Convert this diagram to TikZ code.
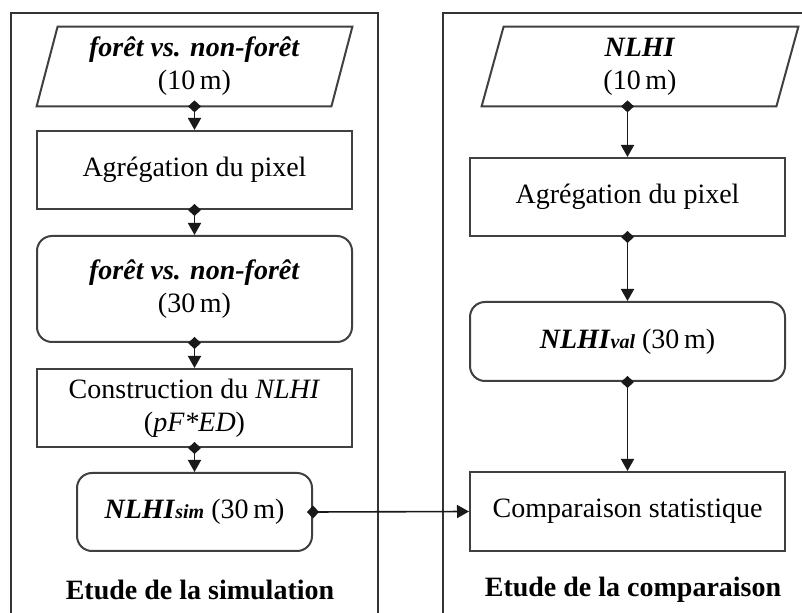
\documentclass[tikz,border=0pt]{standalone}
\usepackage{fontspec}
\setmainfont{Liberation Serif}
\usetikzlibrary{arrows.meta,calc}
\begin{document}
\begin{tikzpicture}[x=0.5pt,y=-0.5pt,
  basefont/.style={font=\fontsize{14}{16.5}\selectfont},
  basefont,
  frame/.style={draw=black!80, line width=1pt},
  procbox/.style={draw=black!75, line width=1pt, minimum width=157.5pt, inner sep=0pt, align=center},
  roundbox/.style={procbox, rounded corners=7.5pt},
  iobox/.style={minimum width=147pt, inner sep=0pt, align=center},
  para/.style={draw=black!75, line width=1pt},
  flow/.style={line width=0.8pt, draw=black!90, {Diamond[length=6pt,width=6.5pt]}-{Triangle[length=6pt,width=6.5pt]}, shorten <=-3pt},
  title/.style={font=\fontsize{14}{16.5}\selectfont\bfseries}
]
\useasboundingbox (0,0) rectangle (802,613);
% frames
\draw[frame] (11,614) -- (11,13) -- (378,13) -- (378,614);
\draw[frame] (443,614) -- (443,13) -- (803,13);

% left column
\node[iobox, minimum height=39.5pt] (p1) at (194.5,66.5) {\textbf{\textit{forêt vs. non-forêt}}\\(10\,m)};
\draw[para] ($(p1.north west)+(10.5,0)$) -- ($(p1.north east)+(10.5,0)$) -- ($(p1.south east)+(-10.5,0)$) -- ($(p1.south west)+(-10.5,0)$) -- cycle;
\node[procbox, minimum height=39pt] (b2) at (194.5,170) {Agrégation du pixel};
\node[roundbox, minimum height=53pt] (r3) at (194.5,289) {\textbf{\textit{forêt vs. non-forêt}}\\(30\,m)};
\node[procbox, minimum height=39pt] (b4) at (194.5,408) {Construction du \textit{NLHI}\\(\textit{pF*ED})};
\node[roundbox, minimum width=117.5pt, minimum height=39pt] (r5) at (194.5,512) {\textbf{\textit{NLHI}}{\fontsize{10}{11}\selectfont\bfseries\itshape sim} (30\,m)};
\node[title] (t1) at (200,590) {Etude de la simulation};

% right column
\node[iobox, minimum height=39.5pt] (p2) at (640,66.5) {\textbf{\textit{NLHI}}\\(10\,m)};
\draw[para] ($(p2.north west)+(11,0)$) -- ($(p2.north east)+(11,0)$) -- ($(p2.south east)+(-11,0)$) -- ($(p2.south west)+(-11,0)$) -- cycle;
\node[procbox, minimum height=39pt] (b6) at (627.5,197) {Agrégation du pixel};
\node[roundbox, minimum height=39.5pt] (r7) at (627.5,341.5) {\textbf{\textit{NLHI}}{\fontsize{10}{11}\selectfont\bfseries\itshape val} (30\,m)};
\node[procbox, minimum height=39.5pt] (b8) at (627.5,511.5) {Comparaison statistique};
\node[title] (t2) at (633,590) {Etude de la comparaison};

% connectors
\draw[flow] (p1.south) -- (b2.north);
\draw[flow] (b2.south) -- (r3.north);
\draw[flow] (r3.south) -- (b4.north);
\draw[flow] (b4.south) -- (r5.north);
\draw[flow] (r5.east) -- (b8.west);
\draw[flow] (b6.north |- p2.south) -- (b6.north);
\draw[flow] (b6.south) -- (r7.north);
\draw[flow] (r7.south) -- (b8.north);
\end{tikzpicture}
\end{document}
